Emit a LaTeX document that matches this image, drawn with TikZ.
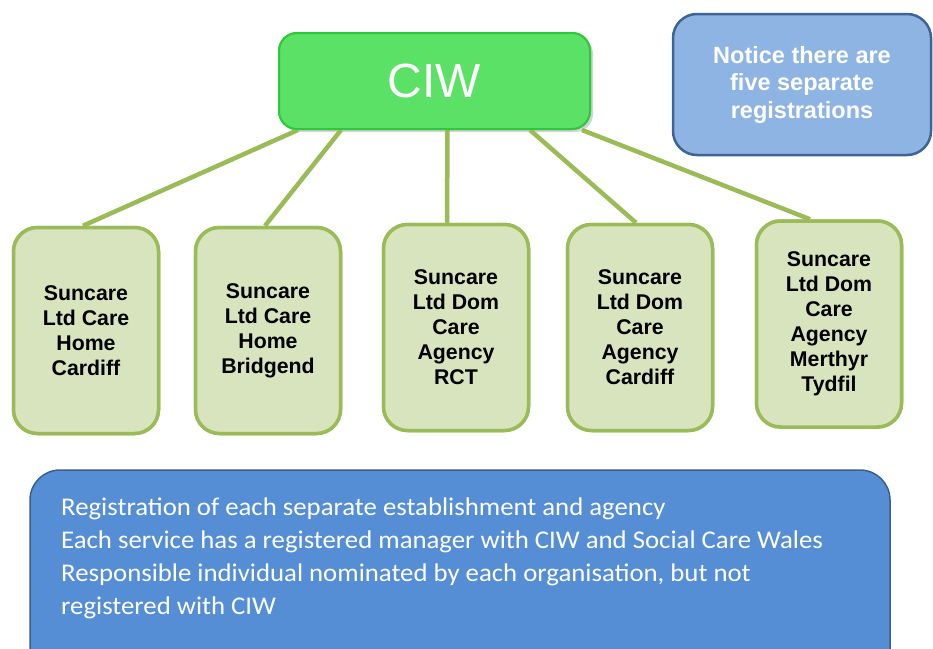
\documentclass[tikz,border=0pt]{standalone}
\usepackage{fontspec}
\setmainfont{Liberation Sans}
\newfontfamily\calib[FakeStretch=1.05]{Carlito}
\usetikzlibrary{calc,shadows}
\definecolor{ciwfill}{HTML}{5BE165}
\definecolor{ciwline}{HTML}{2EC93B}
\definecolor{gfill}{HTML}{D7E4BD}
\definecolor{gline}{HTML}{9BBB59}
\definecolor{notefill}{HTML}{8EB4E3}
\definecolor{noteline}{HTML}{3D6496}
\definecolor{botfill}{HTML}{558ED5}
\definecolor{botline}{HTML}{3A5F8C}
\tikzset{
  x=1pt,y=-1pt,
  gbox/.style={draw=gline,fill=gfill,line width=3.5pt,rounded corners=24pt,
    minimum width=145pt,minimum height=206pt,align=center,
    font=\fontsize{21.3}{25}\selectfont\bfseries,inner sep=0pt},
  ciwbox/.style={draw=ciwline,fill=ciwfill,line width=2pt,rounded corners=18pt,
    minimum width=311pt,minimum height=96pt,inner sep=0pt,
    text=white,font=\fontsize{48}{52}\selectfont},
  conn/.style={draw=gline,line width=4.5pt},
}
\begin{document}
\begin{tikzpicture}
\useasboundingbox (0,0) rectangle (933,648);
\clip (0,0) rectangle (933,648);
% nodes placed first to get their anchors
\node[gbox] (b1) at (86,330.5) {};
\node[gbox] (b2) at (268,330.5) {};
\node[gbox] (b3) at (456,327.5) {};
\node[gbox] (b4) at (640,327.5) {};
\node[gbox] (b5) at (829,324) {};
\node[ciwbox,drop shadow={shadow xshift=3pt,shadow yshift=-3pt,opacity=0.35}] (ciw) at (434.5,81) {};
% connectors
\path[conn] ([xshift=20pt]ciw.south west) -- ([xshift=-3pt]b1.north);
\path[conn] ([xshift=63pt]ciw.south west) -- ([xshift=-3pt]b2.north);
\path[conn] ([xshift=13pt]ciw.south) -- ([xshift=-9pt]b3.north);
\path[conn] ([xshift=-61pt]ciw.south east) -- ([xshift=-4pt]b4.north);
\path[conn] ([xshift=-9pt]ciw.south east) -- ([xshift=-19pt]b5.north);
% boxes drawn over the connector ends
\node[gbox] at (b1) {Suncare\\Ltd Care\\Home\\Cardiff};
\node[gbox] at (b2) {Suncare\\Ltd Care\\Home\\Bridgend};
\node[gbox] at (b3) {Suncare\\Ltd Dom\\Care\\Agency\\RCT};
\node[gbox] at (b4) {Suncare\\Ltd Dom\\Care\\Agency\\Cardiff};
\node[gbox] at (b5) {Suncare\\Ltd Dom\\Care\\Agency\\Merthyr\\Tydfil};
\node[ciwbox] at (ciw) {CIW};
% note
\node[draw=noteline,fill=notefill,line width=2.5pt,rounded corners=24pt,
  minimum width=258pt,minimum height=141pt,inner sep=0pt,align=center,
  text=white,font=\fontsize{23.5}{27.5}\selectfont\bfseries] (note) at (802,84.5)
  {Notice there are\\five separate\\registrations};
% bottom
\node[draw=botline,fill=botfill,line width=1.5pt,rounded corners=30pt,
  minimum width=860pt,minimum height=220pt,inner sep=0pt] (bot) at (460,580) {};
\node[anchor=north west,align=left,text=white,inner sep=0pt,
  font=\calib\fontsize{25.5}{33}\selectfont] (bottxt) at (61,498)
  {Registration of each separate establishment and agency\\
   Each service has a registered manager with CIW and Social Care Wales\\
   Responsible individual nominated by each organisation, but not\\
   registered with CIW};
\end{tikzpicture}
\end{document}
